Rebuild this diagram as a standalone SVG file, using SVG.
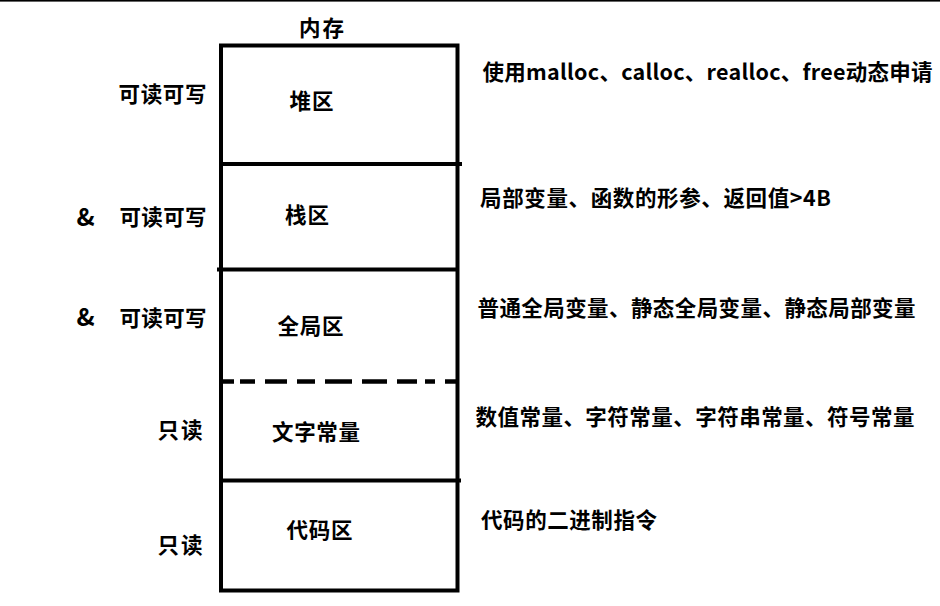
<svg xmlns="http://www.w3.org/2000/svg" width="940" height="606" viewBox="0 0 940 606">
<style>
  .t { font-family: "Noto Sans CJK SC", "Noto Sans", sans-serif; font-weight: 700; font-size: 21.5px; fill: #000; }
  .amp { font-size: 24.5px; }
  .edge { fill: none; stroke: #000; stroke-width: 4; }
  .div { stroke: #000; stroke-width: 4; fill: none; }
  .dash { stroke: #000; stroke-width: 4.5; fill: none; }
</style>
<rect x="0" y="0" width="940" height="606" fill="#fff"/>
<rect x="0" y="0" width="940" height="1.6" fill="#000"/>

<g id="memory-title">
  <text class="t" x="299" y="35.5" textLength="45">内存</text>
</g>

<g id="memory-box">
  <rect class="edge" x="221" y="45.5" width="236.5" height="545"/>
</g>

<g id="dividers">
  <line class="div" x1="221" y1="164" x2="462" y2="164"/>
  <line class="div" x1="217" y1="269.5" x2="457.5" y2="269.5"/>
  <g id="dashed-divider">
    <line class="dash" x1="221" y1="381.5" x2="234" y2="381.5"/>
    <line class="dash" x1="240" y1="381.5" x2="255" y2="381.5"/>
    <line class="dash" x1="265" y1="381.5" x2="287" y2="381.5"/>
    <line class="dash" x1="297" y1="381.5" x2="315" y2="381.5"/>
    <line class="dash" x1="325" y1="381.5" x2="352" y2="381.5"/>
    <line class="dash" x1="362" y1="381.5" x2="387" y2="381.5"/>
    <line class="dash" x1="397" y1="381.5" x2="417" y2="381.5"/>
    <line class="dash" x1="425" y1="381.5" x2="435" y2="381.5"/>
    <line class="dash" x1="445" y1="381.5" x2="457.5" y2="381.5"/>
  </g>
  <line class="div" x1="221" y1="480.5" x2="461" y2="480.5"/>
</g>

<g id="heap">
  <text class="t" x="289.5" y="109" textLength="44">堆区</text>
  <text class="t" x="118.5" y="102" textLength="88">可读可写</text>
  <text class="t" x="482.5" y="79.7" textLength="450">使用malloc、calloc、realloc、free动态申请</text>
</g>

<g id="stack">
  <text class="t" x="285" y="223" textLength="44">栈区</text>
  <text class="t amp" x="76.5" y="225.5">&amp;</text>
  <text class="t" x="119.5" y="225" textLength="87">可读可写</text>
  <text class="t" x="480" y="205.5" textLength="351">局部变量、函数的形参、返回值&gt;4B</text>
</g>

<g id="global">
  <text class="t" x="277.5" y="334" textLength="66">全局区</text>
  <text class="t amp" x="76.5" y="326">&amp;</text>
  <text class="t" x="119.5" y="325.5" textLength="87">可读可写</text>
  <text class="t" x="477.5" y="316" textLength="438">普通全局变量、静态全局变量、静态局部变量</text>
</g>

<g id="literal-constants">
  <text class="t" x="272" y="440" textLength="88">文字常量</text>
  <text class="t" x="157.5" y="438" textLength="45">只读</text>
  <text class="t" x="475.5" y="425" textLength="439">数值常量、字符常量、字符串常量、符号常量</text>
</g>

<g id="code">
  <text class="t" x="286.5" y="538" textLength="66">代码区</text>
  <text class="t" x="157.5" y="553" textLength="45">只读</text>
  <text class="t" x="481" y="528" textLength="176">代码的二进制指令</text>
</g>
</svg>
